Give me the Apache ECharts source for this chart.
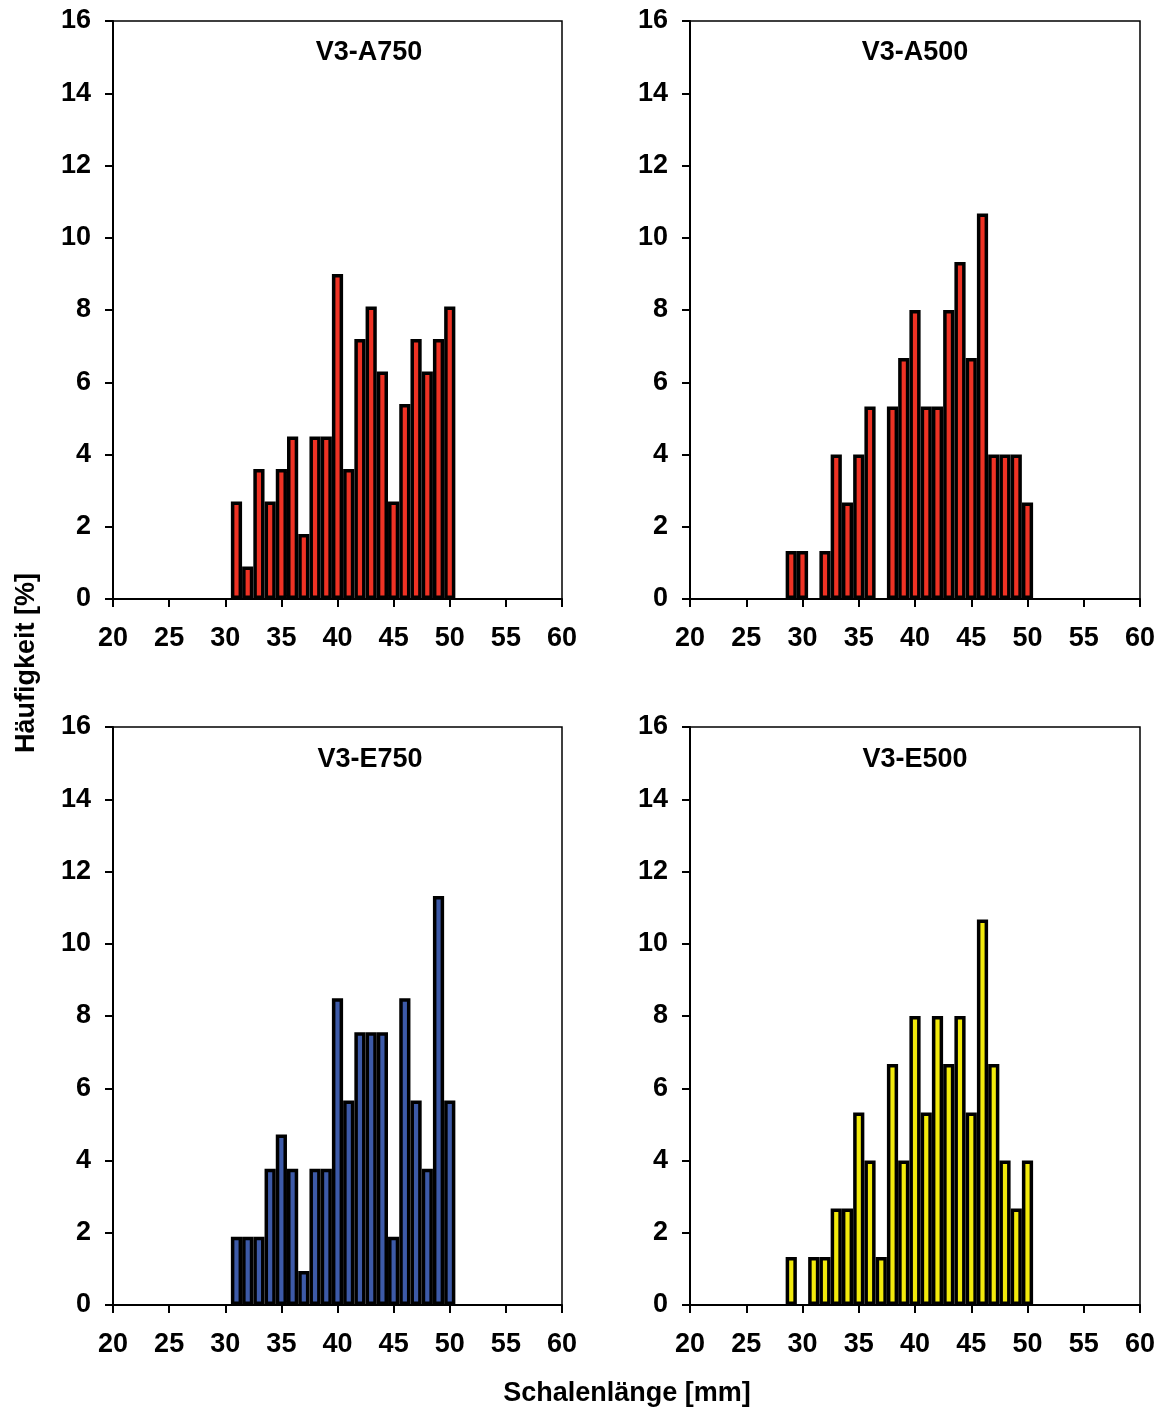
<!DOCTYPE html>
<html>
<head>
<meta charset="utf-8">
<script src="https://cdn.jsdelivr.net/npm/echarts@6/dist/echarts.min.js"></script>
<style>
  html, body { margin: 0; padding: 0; background: #fff; }
  #chart { width: 1161px; height: 1409px; }
</style>
</head>
<body>
<div id="chart"></div>
<script>
  // Klassenmitten (mm)
  const binCenters = [29, 30, 31, 32, 33, 34, 35, 36, 37, 38, 39, 40, 41, 42, 43, 44, 45, 46, 47, 48, 49, 50];

  // Häufigkeit [%] je Klasse
  const valuesA750 = [0, 0, 2.7, 0.9, 3.6, 2.7, 3.6, 4.5, 1.8, 4.5, 4.5, 9.0, 3.6, 7.2, 8.1, 6.3, 2.7, 5.4, 7.2, 6.3, 7.2, 8.1];
  const valuesA500 = [1.33, 1.33, 0, 1.33, 4.0, 2.67, 4.0, 5.33, 0, 5.33, 6.67, 8.0, 5.33, 5.33, 8.0, 9.33, 6.67, 10.67, 4.0, 4.0, 4.0, 2.67];
  const valuesE750 = [0, 0, 1.89, 1.89, 1.89, 3.77, 4.72, 3.77, 0.94, 3.77, 3.77, 8.49, 5.66, 7.55, 7.55, 7.55, 1.89, 8.49, 5.66, 3.77, 11.32, 5.66];
  const valuesE500 = [1.33, 0, 1.33, 1.33, 2.67, 2.67, 5.33, 4.0, 1.33, 6.67, 4.0, 8.0, 5.33, 8.0, 6.67, 8.0, 5.33, 10.67, 6.67, 4.0, 2.67, 4.0];

  const panelNames = ['V3-A750', 'V3-A500', 'V3-E750', 'V3-E500'];
  const panelValues = [valuesA750, valuesA500, valuesE750, valuesE500];
  const panelColors = ['#ee3224', '#ee3224', '#3d5aa8', '#f2ea0c'];

  const xTicks = { min: 20, max: 60, interval: 5 };
  const yTicks = { min: 0, max: 16, interval: 2 };

  const font = '"Liberation Sans", Arial, sans-serif';

  // Plotflächen (px)
  const grids = [
    { left: 113, top: 21, width: 449, height: 578 },
    { left: 690, top: 21, width: 450, height: 578 },
    { left: 113, top: 727, width: 449, height: 578 },
    { left: 690, top: 727, width: 450, height: 578 },
  ];
  const titlePos = [[369, 53], [915, 53], [370, 760], [915, 760]];

  const myChart = echarts.init(document.getElementById('chart'), null, { renderer: 'canvas' });

  const chartOption = () => {
    const grid = [];
    const xAxis = [];
    const yAxis = [];
    const series = [];
    const graphic = [];

    grids.forEach((g, idx) => {
      grid.push({
        left: g.left,
        top: g.top,
        width: g.width,
        height: g.height,
        containLabel: false,
        outerBoundsMode: 'none',
        show: true,
        borderColor: '#000',
        borderWidth: 1.5,
        backgroundColor: 'transparent',
      });
      xAxis.push({
        type: 'value',
        gridIndex: idx,
        min: xTicks.min,
        max: xTicks.max,
        interval: xTicks.interval,
        splitLine: { show: false },
        axisLine: { show: true, onZero: false, lineStyle: { color: '#000', width: 2 } },
        axisTick: { show: true, inside: false, length: 8, lineStyle: { color: '#000', width: 2 } },
        axisLabel: {
          margin: 26,
          color: '#000',
          fontSize: 27,
          fontWeight: 'bold',
          fontFamily: font,
        },
      });
      yAxis.push({
        type: 'value',
        gridIndex: idx,
        min: yTicks.min,
        max: yTicks.max,
        interval: yTicks.interval,
        splitLine: { show: false },
        axisLine: { show: true, lineStyle: { color: '#000', width: 2 } },
        axisTick: { show: true, inside: false, length: 8, lineStyle: { color: '#000', width: 2 } },
        axisLabel: {
          margin: 22,
          color: '#000',
          fontSize: 27,
          fontWeight: 'bold',
          fontFamily: font,
        },
      });
      series.push({
        type: 'bar',
        name: panelNames[idx],
        xAxisIndex: idx,
        yAxisIndex: idx,
        barWidth: 11.2,
        itemStyle: {
          color: panelColors[idx],
          borderColor: '#000',
          borderWidth: 3.5,
        },
        emphasis: { disabled: true },
        data: binCenters
          .map((x, i) => [x, panelValues[idx][i]])
          .filter((d) => d[1] > 0),
      });
      graphic.push({
        type: 'text',
        x: titlePos[idx][0],
        y: titlePos[idx][1],
        style: {
          text: panelNames[idx],
          align: 'center',
          verticalAlign: 'middle',
          fill: '#000',
          font: 'bold 27px ' + font,
        },
      });
    });

    // Achsentitel
    graphic.push({
      type: 'text',
      x: 27,
      y: 663,
      rotation: Math.PI / 2,
      style: {
        text: 'Häufigkeit [%]',
        align: 'center',
        verticalAlign: 'middle',
        fill: '#000',
        font: 'bold 27px ' + font,
      },
    });
    graphic.push({
      type: 'text',
      x: 627,
      y: 1394,
      style: {
        text: 'Schalenlänge [mm]',
        align: 'center',
        verticalAlign: 'middle',
        fill: '#000',
        font: 'bold 27px ' + font,
      },
    });

    myChart.setOption({
      animation: false,
      backgroundColor: '#fff',
      grid,
      xAxis,
      yAxis,
      series,
      graphic,
    });
  };

  chartOption();
</script>
</body>
</html>
